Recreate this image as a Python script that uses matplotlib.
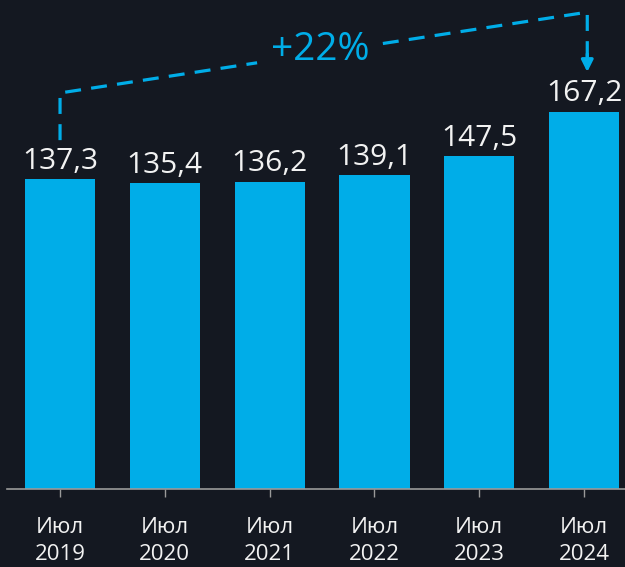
import matplotlib.pyplot as plt

BG = "#141821"
BAR = "#00ADE8"
TXT = "#F2F2F2"

months = ["Июл", "Июл", "Июл", "Июл", "Июл", "Июл"]
years = ["2019", "2020", "2021", "2022", "2023", "2024"]
values = [137.3, 135.4, 136.2, 139.1, 147.5, 167.2]
growth_label = "+22%"

plt.rcParams["font.family"] = ["Open Sans", "DejaVu Sans"]

fig = plt.figure(figsize=(6.25, 5.67), dpi=100, facecolor=BG)
ax = fig.add_axes([7 / 625, 78 / 567, 618 / 625, 489 / 567])
ax.set_facecolor(BG)

x = list(range(len(values)))
ax.bar(x, values, width=0.67, color=BAR)
for xi, v in zip(x, values):
    ax.text(xi, v + 1.5, f"{v:.1f}".replace(".", ","), ha="center", va="bottom",
            fontsize=21.5, color=TXT)

ax.set_xlim(-0.506, 5.39)
ax.set_ylim(0, 216.7)
ax.set_xticks(x)
ax.set_xticklabels([f"{m}\n{y}" for m, y in zip(months, years)],
                   fontsize=16, color=TXT, linespacing=1.4)
ax.tick_params(axis="x", length=6, width=1, color="#9A9A9A", pad=14)
ax.set_yticks([])
for s in ["top", "right", "left"]:
    ax.spines[s].set_visible(False)
ax.spines["bottom"].set_color("#9A9A9A")
ax.spines["bottom"].set_linewidth(1.2)

# growth bracket, diagonal broken around the label
x0, x1 = x[0], x[-1] + 0.03
y_start, y_left, y_right, y_tip = 154.6, 175.5, 211.3, 184.8
gap_a, gap_b = 1.88, 3.08


def on_diag(xv):
    return y_left + (y_right - y_left) * (xv - x0) / (x1 - x0)


dash = dict(color=BAR, lw=2.3, dashes=(5, 3.2))
ax.plot([x0, x0, gap_a], [y_start, y_left, on_diag(gap_a)], **dash)
ax.plot([gap_b, x1, x1], [on_diag(gap_b), y_right, y_tip + 6], **dash)
ax.annotate("", xy=(x1, y_tip), xytext=(x1, y_tip + 8),
            arrowprops=dict(arrowstyle="-|>,head_width=0.35,head_length=0.7",
                            color=BAR, lw=2.3, shrinkA=0, shrinkB=0))
ax.text(2.48, 194.5, growth_label, ha="center", va="center", fontsize=28,
        color=BAR)

fig.savefig("out.png", dpi=100, facecolor=BG)
